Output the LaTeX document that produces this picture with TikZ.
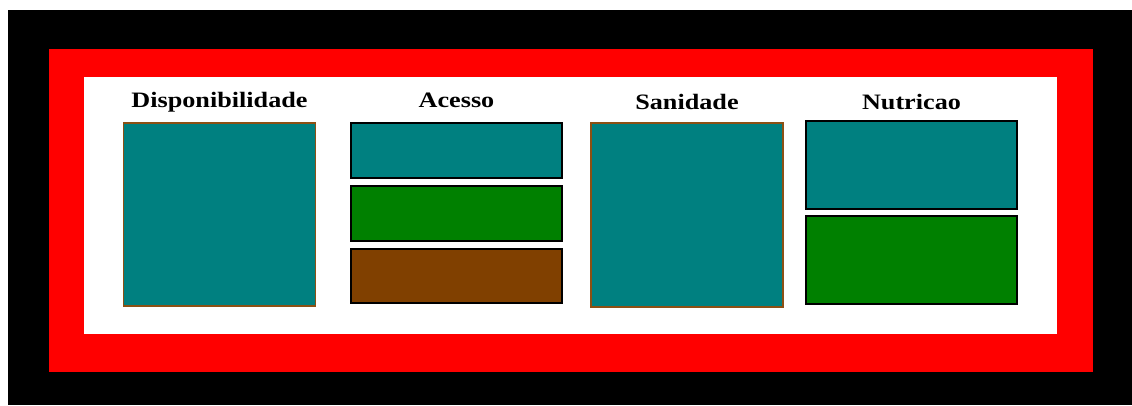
\documentclass[tikz,border=0pt]{standalone}
\usepackage{fontspec}
\setmainfont{Liberation Serif}
\usetikzlibrary{positioning}

\definecolor{tealfill}{RGB}{0,128,128}
\definecolor{greenfill}{RGB}{0,128,0}
\definecolor{brownfill}{RGB}{128,64,0}
\definecolor{edgebrown}{RGB}{140,80,20}

\tikzset{
  bigbox/.style={draw=edgebrown,line width=1.5pt,fill=tealfill,inner sep=0pt,minimum width=192pt,minimum height=183pt},
  barbox/.style={draw=black,line width=2pt,inner sep=0pt,minimum width=211pt},
  title/.style={anchor=base,font=\fontsize{22}{26}\selectfont\bfseries,xscale=1.19}
}

\begin{document}
\begin{tikzpicture}[x=1pt,y=-1pt]
\useasboundingbox (0,0) rectangle (1132,405);

% Frame
\fill[black] (8,10) rectangle (1132,405);
\fill[red] (49,49) rectangle (1093,372);
\fill[white] (84,77) rectangle (1057,334);

% Disponibilidade
\node[bigbox] (disp) at (219.5,214.5) {};
\node[title] (disptitle) at (219.5,107) {Disponibilidade};

% Acesso
\node[barbox,fill=tealfill,minimum height=55pt] (ac1) at (456.5,150.5) {};
\node[barbox,fill=greenfill,minimum height=55pt] (ac2) at (456.5,213.5) {};
\node[barbox,fill=brownfill,minimum height=54pt] (ac3) at (456.5,276) {};
\node[title] (actitle) at (456.5,107) {Acesso};

% Sanidade
\node[bigbox,minimum height=184pt] (san) at (687,215) {};
\node[title] (santitle) at (687,109) {Sanidade};

% Nutricao
\node[barbox,fill=tealfill,minimum height=88pt] (nut1) at (911.5,165) {};
\node[barbox,fill=greenfill,minimum height=88pt] (nut2) at (911.5,260) {};
\node[title] (nuttitle) at (911.5,109) {Nutricao};

\end{tikzpicture}
\end{document}
